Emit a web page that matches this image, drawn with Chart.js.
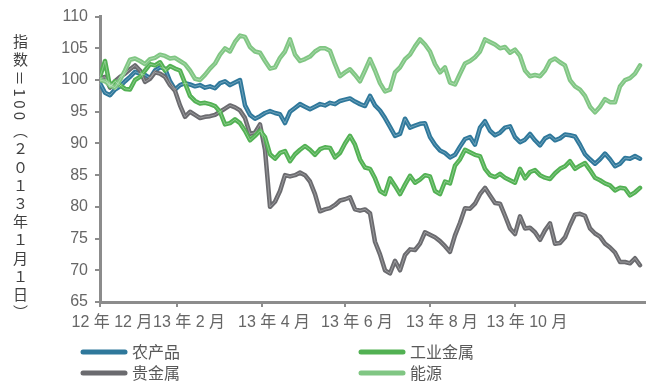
<!DOCTYPE html>
<html>
<head>
<meta charset="utf-8">
<script src="https://cdn.jsdelivr.net/npm/chart.js@4.4.0/dist/chart.umd.min.js"></script>
<style>
    html, body { margin: 0; padding: 0; background: #fff; }
    #wrap { position: relative; width: 664px; height: 385px; }
    #yTitle {
        position: absolute; left: 11px; top: 34px;
        writing-mode: vertical-rl;
        font: 15px "Noto Sans CJK SC"; line-height: 18px;
        letter-spacing: 3.2px;
        color: #404040;
    }
</style>
</head>
<body>
<div id="wrap">
    <canvas id="chart" width="664" height="385"></canvas>
    <div id="yTitle">指数＝100（２０１３年１月１日）</div>
</div>
<script>
// --- DATOS ---
const tickPos = [0, 15.4, 32.4, 49, 66, 83];
const tickLabels = ['12 年 12 月', '13 年 2 月', '13 年 4 月', '13 年 6 月', '13 年 8 月', '13 年 10 月'];
const seriesNames = ['农产品', '工业金属', '贵金属', '能源'];

const agri = [99.5, 98, 97.6, 98.5, 99, 99.8, 100.5, 101.3, 101, 100.8, 100.3, 101.5, 102, 101.8, 99.8, 98.5,
    99.2, 99.5, 99.3, 99, 99.2, 98.8, 99, 98.7, 99.5, 99.8, 99.2, 99.6, 100, 96, 94.5, 93.9, 94.3, 94.8, 95.1,
    94.8, 94.6, 93.2, 95, 95.6, 96.2, 95.8, 95.4, 95.8, 96.2, 96, 96.4, 96.2, 96.7, 96.9, 97.1, 96.6, 96.2, 95.9,
    97.5, 96, 95.2, 94, 92.6, 91.2, 91.5, 93.9, 92.5, 92.8, 93.1, 93.2, 91, 89.8, 88.9, 88.5, 87.8, 88.2, 89.5,
    90.7, 91, 89.8, 92.5, 93.5, 92, 91.3, 91.7, 92.5, 92.7, 91, 90.2, 90.6, 91.5, 90.5, 89.7, 90.8, 91.2, 90.5,
    90.8, 91.4, 91.3, 91.1, 89.8, 88.3, 87.5, 86.8, 87.5, 88.4, 87.5, 86.4, 86.8, 87.7, 87.6, 88, 87.6];

const metals = [100.5, 103, 99, 99.8, 99.2, 98.6, 98.5, 100, 100.5, 101.5, 102.5, 102.3, 102.8, 101.5, 102.2,
    101.8, 101.5, 99.5, 97.5, 96.7, 96.3, 96.4, 96.2, 95.9, 95, 93, 93.2, 93.8, 93.2, 92, 90.5, 91.2, 92, 91,
    88.3, 87.6, 88.5, 88.8, 87.2, 88.3, 89, 89.6, 89, 88.2, 89.1, 89.4, 89.3, 87.8, 88.5, 90, 91.2, 89.8, 87.5,
    86.2, 86, 84.5, 82.5, 82, 84.5, 83.3, 82, 83.5, 84.9, 83.8, 84.3, 85, 84.8, 82.5, 82, 84, 83.7, 86.5, 87.5,
    89, 88.6, 88.2, 88, 86, 85, 84.7, 85.2, 84.6, 84.2, 83.8, 86, 84.5, 85.5, 85.8, 85, 84.6, 84.4, 85.3, 86,
    86.4, 87.2, 86, 86.5, 86.9, 85.8, 84.6, 84.2, 83.7, 83.4, 82.6, 83, 82.9, 81.8, 82.3, 83];

const precious = [100.3, 100.5, 98.8, 99.8, 100.5, 101, 101.7, 102.3, 101.5, 99.7, 100.2, 101.2, 101, 100.5,
    99.2, 98.3, 96, 94.2, 95, 94.5, 94, 94.2, 94.3, 94.5, 95, 95.5, 96, 95.7, 95.2, 94, 91.5, 91.7, 93, 89, 80,
    80.8, 82.5, 85, 84.8, 85, 85.4, 85, 84, 82, 79.3, 79.6, 79.8, 80.3, 81, 81.2, 81.5, 79.6, 79.4, 79.6, 79,
    74.5, 72.5, 70, 69.5, 71.5, 70, 72.4, 73.3, 73.2, 74.2, 76, 75.6, 75.2, 74.6, 73.8, 72.9, 75.5, 77.5, 79.8,
    79.7, 80.5, 82, 83, 81.8, 80.6, 80.5, 78.6, 76.6, 75.7, 78.5, 76.6, 76.7, 76, 74.8, 76.3, 77.4, 74.2, 74.3,
    75.2, 77.1, 78.8, 78.9, 78.6, 76.6, 75.8, 75.3, 74.2, 73.6, 72.8, 71.3, 71.3, 71.1, 71.9, 70.8];

const energy = [100, 99.8, 99.2, 98.8, 100, 101.5, 103.2, 103.4, 103, 102.5, 103.3, 103.5, 104, 103.8, 103.4,
    103.5, 103, 102.5, 101.5, 100.2, 100, 100.8, 101.8, 102.6, 104, 105, 104.5, 106, 107, 106.8, 105.2, 104.5,
    104.3, 103, 101.8, 102, 103.5, 104.5, 106.4, 104, 103, 103.3, 103.7, 104.5, 105, 105, 104.6, 102.5, 100.6,
    101.2, 101.7, 100.8, 99.8, 101.5, 103.3, 101.5, 99.5, 98.2, 98.5, 101.2, 102, 103.3, 104, 105.3, 106.4,
    105.6, 104.5, 102.5, 101.2, 102, 99.6, 99.3, 101, 102.6, 103, 103.6, 104.5, 106.4, 106, 105.6, 105, 105.2,
    104.3, 104.8, 103.8, 101.5, 100.6, 100.8, 100.6, 101.5, 103, 103.4, 102.8, 102.3, 100, 99, 98.5, 97.5, 95.8,
    94.9, 95.8, 97, 96.5, 96.5, 99, 100, 100.3, 101, 102.3];

const colors = ['#2f789b', '#52b153', '#6b6b6f', '#80c683'];
const axisGray = '#8c8c8c';
const textGray = '#666666';

const toPoints = arr => arr.map((v, i) => ({ x: i, y: v }));

// Leyenda en rejilla 2x2
const legendPos = [[80, 352], [358, 352], [80, 373], [358, 373]];
const gridLegend = {
    id: 'gridLegend',
    afterDraw(chart) {
        const ctx = chart.ctx;
        chart.data.datasets.forEach((ds, i) => {
            const [x, y] = legendPos[i];
            ctx.save();
            ctx.strokeStyle = ds.borderColor;
            ctx.lineWidth = 5;
            ctx.lineCap = 'round';
            ctx.beginPath();
            ctx.moveTo(x + 3, y);
            ctx.lineTo(x + 45, y);
            ctx.stroke();
            ctx.fillStyle = '#595959';
            ctx.font = '16px "Noto Sans CJK SC"';
            ctx.textBaseline = 'middle';
            ctx.fillText(ds.label, x + 52, y);
            ctx.restore();
        });
    }
};

// fino brillo blanco dentro de cada linea
const innerShine = {
    id: 'innerShine',
    afterDatasetsDraw(chart) {
        const ctx = chart.ctx;
        ctx.save();
        ctx.strokeStyle = 'rgba(255,255,255,0.45)';
        ctx.lineWidth = 0.7;
        chart.getSortedVisibleDatasetMetas().forEach(meta => {
            ctx.beginPath();
            meta.data.forEach((p, i) => i ? ctx.lineTo(p.x, p.y) : ctx.moveTo(p.x, p.y));
            ctx.stroke();
        });
        ctx.restore();
    }
};

new Chart(document.getElementById('chart'), {
    type: 'line',
    data: {
        datasets: [
            { label: seriesNames[0], data: toPoints(agri), borderColor: colors[0], order: 3 },
            { label: seriesNames[1], data: toPoints(metals), borderColor: colors[1], order: 1 },
            { label: seriesNames[2], data: toPoints(precious), borderColor: colors[2], order: 2 },
            { label: seriesNames[3], data: toPoints(energy), borderColor: colors[3], order: 0 }
        ].map(d => Object.assign(d, { borderWidth: 4.5, pointRadius: 0, tension: 0, fill: false, borderJoinStyle: 'round', borderCapStyle: 'round' }))
    },
    options: {
        responsive: false,
        animation: false,
        events: [],
        layout: { padding: { left: 0, right: 19, top: 15, bottom: 53 } },
        plugins: { legend: { display: false }, tooltip: { enabled: false } },
        scales: {
            x: {
                type: 'linear',
                min: 0,
                max: 109,
                afterBuildTicks: s => { s.ticks = tickPos.map(v => ({ value: v })); },
                afterFit: s => { s.height = 30; },
                border: { display: true, color: axisGray, width: 3 },
                grid: { drawOnChartArea: false, drawTicks: true, tickLength: 5, color: axisGray, lineWidth: 2 },
                ticks: {
                    autoSkip: false, maxRotation: 0, padding: 6, labelOffset: 12,
                    color: textGray,
                    font: { family: '"Liberation Sans", "Noto Sans CJK SC"', size: 16 },
                    callback: (v, i) => tickLabels[i]
                }
            },
            y: {
                min: 65,
                max: 110,
                afterFit: s => { s.width = 100; },
                border: { display: true, color: axisGray, width: 3 },
                grid: { drawOnChartArea: false, drawTicks: true, tickLength: 5, color: axisGray, lineWidth: 2 },
                ticks: {
                    stepSize: 5, padding: 7,
                    color: textGray,
                    font: { family: '"Liberation Sans"', size: 16 }
                }
            }
        }
    },
    plugins: [gridLegend, innerShine]
});
</script>
</body>
</html>
